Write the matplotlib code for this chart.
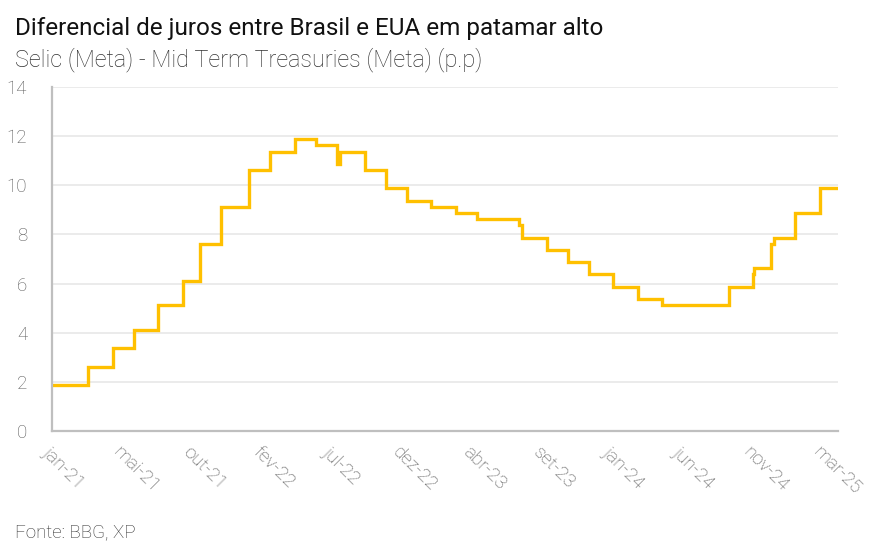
import matplotlib
matplotlib.use("Agg")
import matplotlib.pyplot as plt
import pandas as pd

plt.rcParams['font.family'] = ['Roboto', 'DejaVu Sans']

# Selic (meta) - Fed funds (meta, ponto médio), datas de mudança
change_dates = ['2021-01-04', '2021-03-17', '2021-05-05', '2021-06-16', '2021-08-04',
                '2021-09-22', '2021-10-27', '2021-12-08', '2022-02-02', '2022-03-16',
                '2022-05-04', '2022-06-15', '2022-07-27', '2022-08-03', '2022-09-21',
                '2022-11-02', '2022-12-14', '2023-02-01', '2023-03-22', '2023-05-03',
                '2023-07-26', '2023-08-02', '2023-09-20', '2023-11-01', '2023-12-13',
                '2024-01-31', '2024-03-20', '2024-05-08', '2024-09-18', '2024-11-06',
                '2024-11-07', '2024-12-11', '2024-12-18', '2025-01-29', '2025-03-19',
                '2025-04-25']
diff_values = [1.875, 2.625, 3.375, 4.125, 5.125,
               6.125, 7.625, 9.125, 10.625, 11.375,
               11.875, 11.625, 10.875, 11.375, 10.625,
               9.875, 9.375, 9.125, 8.875, 8.625,
               8.375, 7.875, 7.375, 6.875, 6.375,
               5.875, 5.375, 5.125, 5.875, 6.375,
               6.625, 7.625, 7.875, 8.875, 9.875,
               9.875]

tick_dates = pd.date_range('2021-01-04', periods=12, freq='140D')
month_pt = ['jan', 'fev', 'mar', 'abr', 'mai', 'jun', 'jul', 'ago', 'set', 'out', 'nov', 'dez']
tick_labels = [f"{month_pt[d.month - 1]}-{d.strftime('%y')}" for d in tick_dates]

x = pd.to_datetime(change_dates)

fig = plt.figure(figsize=(8.92, 5.57), dpi=100)
ax = fig.add_axes([0.0583, 0.2262, 0.8812, 0.6176])

ax.plot(x, diff_values, drawstyle='steps-post', color='#FFC000', lw=2.4, solid_joinstyle='miter')

ax.set_xlim(x[0], x[-1])
ax.set_ylim(0, 14)
ax.set_yticks(range(0, 15, 2))
ax.grid(axis='y', color='#e6e6e6', lw=1.1)
ax.set_axisbelow(True)

for s in ['top', 'right']:
    ax.spines[s].set_visible(False)
for s in ['left', 'bottom']:
    ax.spines[s].set_color('#bfbfbf')
    ax.spines[s].set_linewidth(1.6)

ax.tick_params(axis='both', length=0, labelsize=13.5, labelcolor='#595959')
ax.tick_params(axis='y', pad=18)
ax.set_xticks(tick_dates)
ax.set_xticklabels(tick_labels, rotation=-45, ha='left', rotation_mode='anchor')
ax.tick_params(axis='x', pad=9)
for lab in ax.get_xticklabels() + ax.get_yticklabels():
    lab.set_fontweight('light')

fig.text(0.017, 0.937, 'Diferencial de juros entre Brasil e EUA em patamar alto',
         fontsize=17.5, color='#111111')
fig.text(0.017, 0.880, 'Selic (Meta) - Mid Term Treasuries (Meta) (p.p)',
         fontsize=16.8, color='#333333', fontweight='light')
fig.text(0.017, 0.035, 'Fonte: BBG, XP', fontsize=13.5, color='#333333', fontweight='light')

fig.savefig('out.png', dpi=100)
